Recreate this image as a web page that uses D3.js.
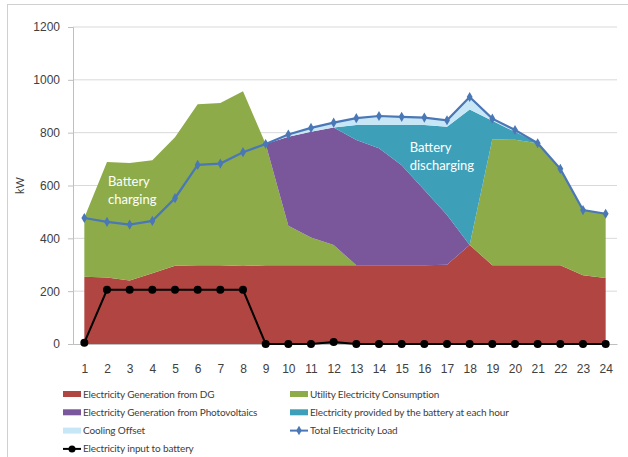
<!DOCTYPE html>
<html>
<head>
<meta charset="utf-8">
<script src="https://cdn.jsdelivr.net/npm/d3@7"></script>
<style>
  body { margin: 0; background: #fff; }
  svg { font-family: Lato, "Open Sans", sans-serif; }
  .axis text { fill: #404040; font-size: 12px; }
  .legend text { fill: #404040; font-size: 10px; letter-spacing: -0.15px; }
</style>
</head>
<body>
<svg id="chart"></svg>
<script>
const width = 628;
const height = 457;
const margin = { top: 27, right: 11, bottom: 113, left: 73 };
const innerW = width - margin.left - margin.right;
const innerH = height - margin.top - margin.bottom;

// hours of the day
const hours = d3.range(1, 25);
const yTicks = [0, 200, 400, 600, 800, 1000, 1200];

// series values (kW)
const dg =      [255, 252, 240, 268, 296, 298, 298, 295, 298, 298, 298, 298, 298, 298, 298, 298, 300, 375, 298, 298, 298, 298, 260, 250];
const utility = [223, 437, 445, 428, 487, 610, 614, 662, 459, 150, 105,  77,   0,   0,   0,   0,   0,   0, 477, 475, 462, 365, 247, 243];
const pv =      [  0,   0,   0,   0,   0,   0,   0,   0,   0, 337, 400, 445, 474, 443, 379, 285, 188,   0,   0,   0,   0,   0,   0,   0];
const battery = [  0,   0,   0,   0,   0,   0,   0,   0,   0,   0,   0,   0,  57,  88, 152, 246, 334, 513,  70,  30,   0,   0,   0,   0];
const cooling = [  0,   0,   0,   0,   0,   0,   0,   0,   0,   8,  13,  20,  26,  34,  31,  28,  25,  47,   8,   7,   0,   0,   0,   0];
const load =    [477, 462, 452, 466, 552, 678, 683, 726, 757, 793, 818, 838, 855, 863, 860, 857, 847, 935, 853, 810, 760, 663, 507, 493];
const batteryInput = [5, 205, 205, 205, 205, 205, 205, 205, 0, 0, 0, 8, 0, 0, 0, 0, 0, 0, 0, 0, 0, 0, 0, 0];

const areaKeys = ["dg", "utility", "pv", "battery", "cooling"];
const areaNames = {
  dg: "Electricity Generation from DG",
  utility: "Utility Electricity Consumption",
  pv: "Electricity Generation from Photovoltaics",
  battery: "Electricity provided by the battery at each hour",
  cooling: "Cooling Offset"
};
const colors = {
  dg: "#b04541",
  utility: "#8dac49",
  pv: "#7a569b",
  battery: "#3d9fb8",
  cooling: "#c8e7f6",
  load: "#4a77b6",
  input: "#000000"
};

const table = hours.map((h, i) => ({
  hour: h, dg: dg[i], utility: utility[i], pv: pv[i], battery: battery[i], cooling: cooling[i]
}));

const svg = d3.select("#chart")
  .attr("width", width)
  .attr("height", height);

// outer frame
svg.append("rect")
  .attr("x", 7.5).attr("y", 4.5)
  .attr("width", 630).attr("height", 460)
  .attr("fill", "none")
  .attr("stroke", "#d0d0d0");

const g = svg.append("g")
  .attr("transform", `translate(${margin.left},${margin.top})`);

const x = d3.scalePoint()
  .domain(hours)
  .range([0, innerW])
  .padding(0.5);

const y = d3.scaleLinear()
  .domain([0, 1200])
  .range([innerH, 0]);

// grid lines
g.append("g")
  .selectAll("line")
  .data(yTicks.filter(d => d > 0))
  .join("line")
  .attr("x1", 0).attr("x2", innerW)
  .attr("y1", d => y(d)).attr("y2", d => y(d))
  .attr("stroke", "#d9d9d9");

// stacked areas
const stack = d3.stack().keys(areaKeys);
const series = stack(table);

const area = d3.area()
  .x(d => x(d.data.hour))
  .y0(d => y(d[0]))
  .y1(d => y(d[1]));

g.append("g")
  .selectAll("path")
  .data(series)
  .join("path")
  .attr("fill", d => colors[d.key])
  .attr("d", area);

// annotations
const notes = g.append("g")
  .attr("fill", "#fff")
  .attr("font-size", "13px");
notes.append("text").attr("x", x(2) + 1).attr("y", y(600)).text("Battery");
notes.append("text").attr("x", x(2) + 1).attr("y", y(530)).text("charging");
notes.append("text").attr("x", x(15) + 8).attr("y", y(727)).text("Battery");
notes.append("text").attr("x", x(15) + 8).attr("y", y(660)).text("discharging");

// y axis
const yAxis = g.append("g")
  .attr("class", "axis")
  .call(d3.axisLeft(y).tickValues(yTicks).tickFormat(d3.format("d")).tickSize(5).tickPadding(8));
yAxis.select(".domain").attr("stroke", "#bfbfbf");
yAxis.selectAll(".tick line").attr("stroke", "#bfbfbf");

// x axis
const xAxis = g.append("g")
  .attr("class", "axis")
  .attr("transform", `translate(0,${innerH})`)
  .call(d3.axisBottom(x).tickSize(0).tickPadding(20));
xAxis.select(".domain").attr("stroke", "#bfbfbf");

// y axis title
svg.append("text")
  .attr("transform", `translate(24,${margin.top + y(600)}) rotate(-90)`)
  .attr("text-anchor", "middle")
  .attr("font-size", "11px")
  .attr("fill", "#404040")
  .text("kW");

// total load line
const line = d3.line()
  .x((d, i) => x(hours[i]))
  .y(d => y(d));

g.append("path")
  .datum(load)
  .attr("fill", "none")
  .attr("stroke", colors.load)
  .attr("stroke-width", 2.2)
  .attr("d", line);

g.append("g")
  .selectAll("path")
  .data(load)
  .join("path")
  .attr("transform", (d, i) => `translate(${x(hours[i])},${y(d)})`)
  .attr("d", d3.symbol(d3.symbolDiamond, 30))
  .attr("fill", colors.load);

// battery input line
g.append("path")
  .datum(batteryInput)
  .attr("fill", "none")
  .attr("stroke", colors.input)
  .attr("stroke-width", 2)
  .attr("d", line);

g.append("g")
  .selectAll("circle")
  .data(batteryInput)
  .join("circle")
  .attr("cx", (d, i) => x(hours[i]))
  .attr("cy", d => y(d))
  .attr("r", 4)
  .attr("fill", colors.input);

// legend
const legendItems = [
  { name: areaNames.dg, type: "area", color: colors.dg },
  { name: areaNames.utility, type: "area", color: colors.utility },
  { name: areaNames.pv, type: "area", color: colors.pv },
  { name: areaNames.battery, type: "area", color: colors.battery },
  { name: areaNames.cooling, type: "area", color: colors.cooling },
  { name: "Total Electricity Load", type: "diamond", color: colors.load },
  { name: "Electricity input to battery", type: "circle", color: colors.input }
];

const legend = svg.append("g")
  .attr("class", "legend")
  .selectAll("g")
  .data(legendItems)
  .join("g")
  .attr("transform", (d, i) => `translate(${i % 2 ? 290 : 63},${394 + Math.floor(i / 2) * 18.3})`);

legend.filter(d => d.type === "area")
  .append("rect")
  .attr("x", 0).attr("y", -3)
  .attr("width", 18).attr("height", 6)
  .attr("fill", d => d.color);

legend.filter(d => d.type !== "area")
  .append("line")
  .attr("x1", 0).attr("x2", 18)
  .attr("stroke", d => d.color)
  .attr("stroke-width", 2);

legend.filter(d => d.type === "diamond")
  .append("path")
  .attr("transform", "translate(9,0)")
  .attr("d", d3.symbol(d3.symbolDiamond, 26))
  .attr("fill", d => d.color);

legend.filter(d => d.type === "circle")
  .append("circle")
  .attr("cx", 9).attr("r", 3.5)
  .attr("fill", d => d.color);

legend.append("text")
  .attr("x", 20)
  .attr("dy", "0.35em")
  .text(d => d.name);
</script>
</body>
</html>
